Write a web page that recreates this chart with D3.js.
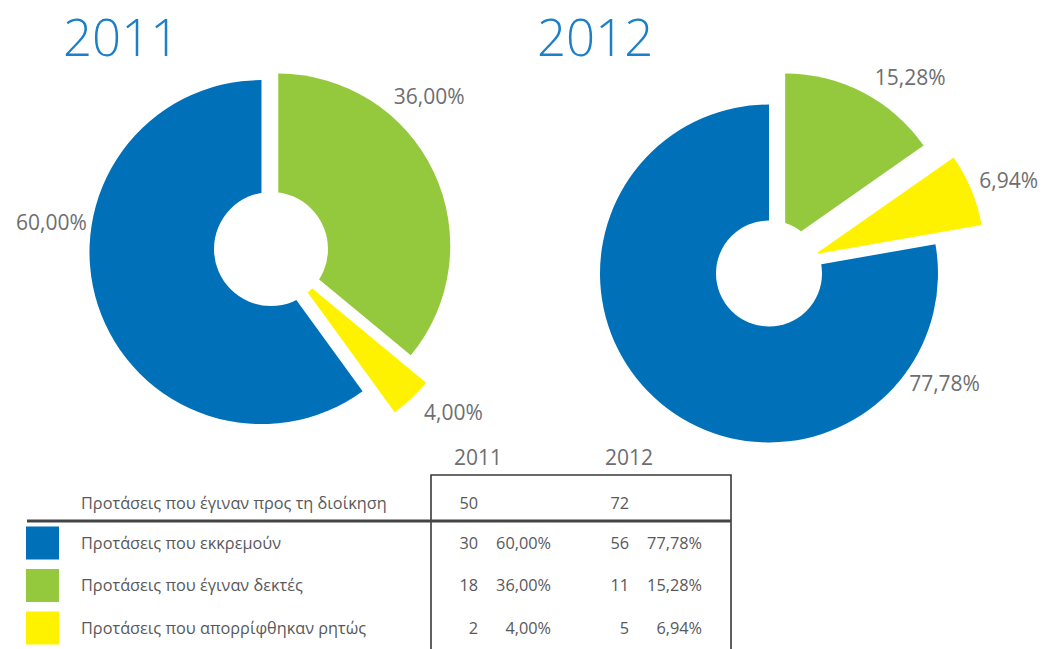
<!DOCTYPE html>
<html lang="el">
<meta charset="utf-8">
<script src="https://d3js.org/d3.v7.min.js"></script>
<style>
  body { margin: 0; background: #fff; }
  text { font-family: "Open Sans", "Noto Sans", sans-serif; }
</style>
<svg id="base" width="1043" height="649"></svg>

<script>
    // data
    var years = ["2011", "2012"];
    var categories = ["Προτάσεις που εκκρεμούν", "Προτάσεις που έγιναν δεκτές", "Προτάσεις που απορρίφθηκαν ρητώς"];
    var totalLabel = "Προτάσεις που έγιναν προς τη διοίκηση";
    var totals = [50, 72];
    var counts2011 = [30, 18, 2];
    var counts2012 = [56, 11, 5];
    var colors = ["#0071b9", "#94c83d", "#fff200"];

    var el = d3.formatLocale({decimal: ",", thousands: ".", grouping: [3], currency: ["", "€"]});
    var pct = el.format(".2%");

    var svg = d3.select("#base");

    // layout of the two pies (category order: pending, accepted, rejected)
    var pies = [
        {year: "2011", counts: counts2011, total: totals[0], cx: 271, cy: 249, r: 172, hole: 57,
         explode: [10, 8, 33], labelAt: [0.62, 0.35, 0.10], labelR: 212, titleX: 63},
        {year: "2012", counts: counts2012, total: totals[1], cx: 769, cy: 273.5, r: 169, hole: 53,
         explode: [0, 35, 50], labelAt: [0.15, 0.675, 0.57], labelR: 207, titleX: 537}
    ];

    // slices start at 12 o'clock: accepted, rejected, then pending
    var drawOrder = [1, 2, 0];

    var pie = d3.pie()
        .sort(null)
        .value(function (i) { return i.v; });

    pies.forEach(function (p) {
        var g = svg.append("g")
            .attr("transform", "translate(" + p.cx + "," + p.cy + ")");

        var arcs = pie(drawOrder.map(function (i) { return {i: i, v: p.counts[i]}; }));
        var arc = d3.arc().innerRadius(0).outerRadius(p.r);

        function shift(d) {
            var a = (d.startAngle + d.endAngle) / 2;
            var e = p.explode[d.data.i];
            return [Math.sin(a) * e, -Math.cos(a) * e];
        }

        g.selectAll("path.slice")
            .data(arcs)
            .enter()
            .append("path")
            .attr("class", "slice")
            .attr("d", arc)
            .attr("transform", function (d) { return "translate(" + shift(d) + ")"; })
            .attr("fill", function (d) { return colors[d.data.i]; });

        g.append("circle")
            .attr("r", p.hole)
            .attr("fill", "#fff");

        g.selectAll("text.lbl")
            .data(arcs)
            .enter()
            .append("text")
            .attr("class", "lbl")
            .attr("transform", function (d) {
                var t = p.labelAt[d.data.i];
                var a = d.startAngle + t * (d.endAngle - d.startAngle);
                var s = shift(d);
                return "translate(" + (s[0] + Math.sin(a) * p.labelR) + "," + (s[1] - Math.cos(a) * p.labelR) + ")";
            })
            .attr("text-anchor", "middle")
            .attr("dy", "0.35em")
            .style("font-size", "21px")
            .attr("fill", "#6d6e71")
            .text(function (d) { return pct(d.data.v / p.total); });

        svg.append("text")
            .attr("x", p.titleX)
            .attr("y", 56)
            .style("font-size", "51px")
            .style("font-weight", 300)
            .attr("fill", "#1b7fc9")
            .text(p.year);
    });

    // table
    var rowY = d3.scalePoint().domain(categories).range([543, 628]);
    var colX = d3.scalePoint().domain(years).range([478, 629]);
    var pctOffset = 73;
    var ink = "#58595b";
    var fs = "16.3px";

    var tbl = svg.append("g");

    tbl.selectAll("text.head")
        .data(years)
        .enter()
        .append("text")
        .attr("x", function (d) { return colX(d); })
        .attr("y", 458)
        .attr("dy", "0.35em")
        .attr("text-anchor", "middle")
        .style("font-size", "21px")
        .attr("fill", "#6d6e71")
        .text(function (d) { return d; });

    tbl.append("path")
        .attr("d", "M431,649V475H731V649")
        .attr("fill", "none")
        .attr("stroke", "#3a3a3a")
        .attr("stroke-width", 1.6);

    tbl.append("line")
        .attr("x1", 27).attr("x2", 731)
        .attr("y1", 521).attr("y2", 521)
        .attr("stroke", "#444")
        .attr("stroke-width", 3);

    tbl.append("text")
        .attr("x", 81).attr("y", 503).attr("dy", "0.35em")
        .style("font-size", fs)
        .attr("fill", ink)
        .text(totalLabel);

    tbl.selectAll("text.tot")
        .data(totals)
        .enter()
        .append("text")
        .attr("x", function (d, i) { return colX(years[i]); })
        .attr("y", 503).attr("dy", "0.35em")
        .attr("text-anchor", "end")
        .style("font-size", fs)
        .attr("fill", ink)
        .text(function (d) { return d; });

    tbl.selectAll("rect.key")
        .data(categories)
        .enter()
        .append("rect")
        .attr("x", 26)
        .attr("y", function (d) { return rowY(d) - 16.5; })
        .attr("width", 33)
        .attr("height", 33)
        .attr("fill", function (d, i) { return colors[i]; });

    tbl.selectAll("text.cat")
        .data(categories)
        .enter()
        .append("text")
        .attr("x", 81)
        .attr("y", function (d) { return rowY(d); })
        .attr("dy", "0.35em")
        .style("font-size", fs)
        .attr("fill", ink)
        .text(function (d) { return d; });

    pies.forEach(function (p, k) {
        categories.forEach(function (c, i) {
            tbl.append("text")
                .attr("x", colX(years[k]))
                .attr("y", rowY(c)).attr("dy", "0.35em")
                .attr("text-anchor", "end")
                .style("font-size", fs)
                .attr("fill", ink)
                .text(p.counts[i]);
            tbl.append("text")
                .attr("x", colX(years[k]) + pctOffset)
                .attr("y", rowY(c)).attr("dy", "0.35em")
                .attr("text-anchor", "end")
                .style("font-size", fs)
                .attr("fill", ink)
                .text(pct(p.counts[i] / p.total));
        });
    });
</script>
</html>
